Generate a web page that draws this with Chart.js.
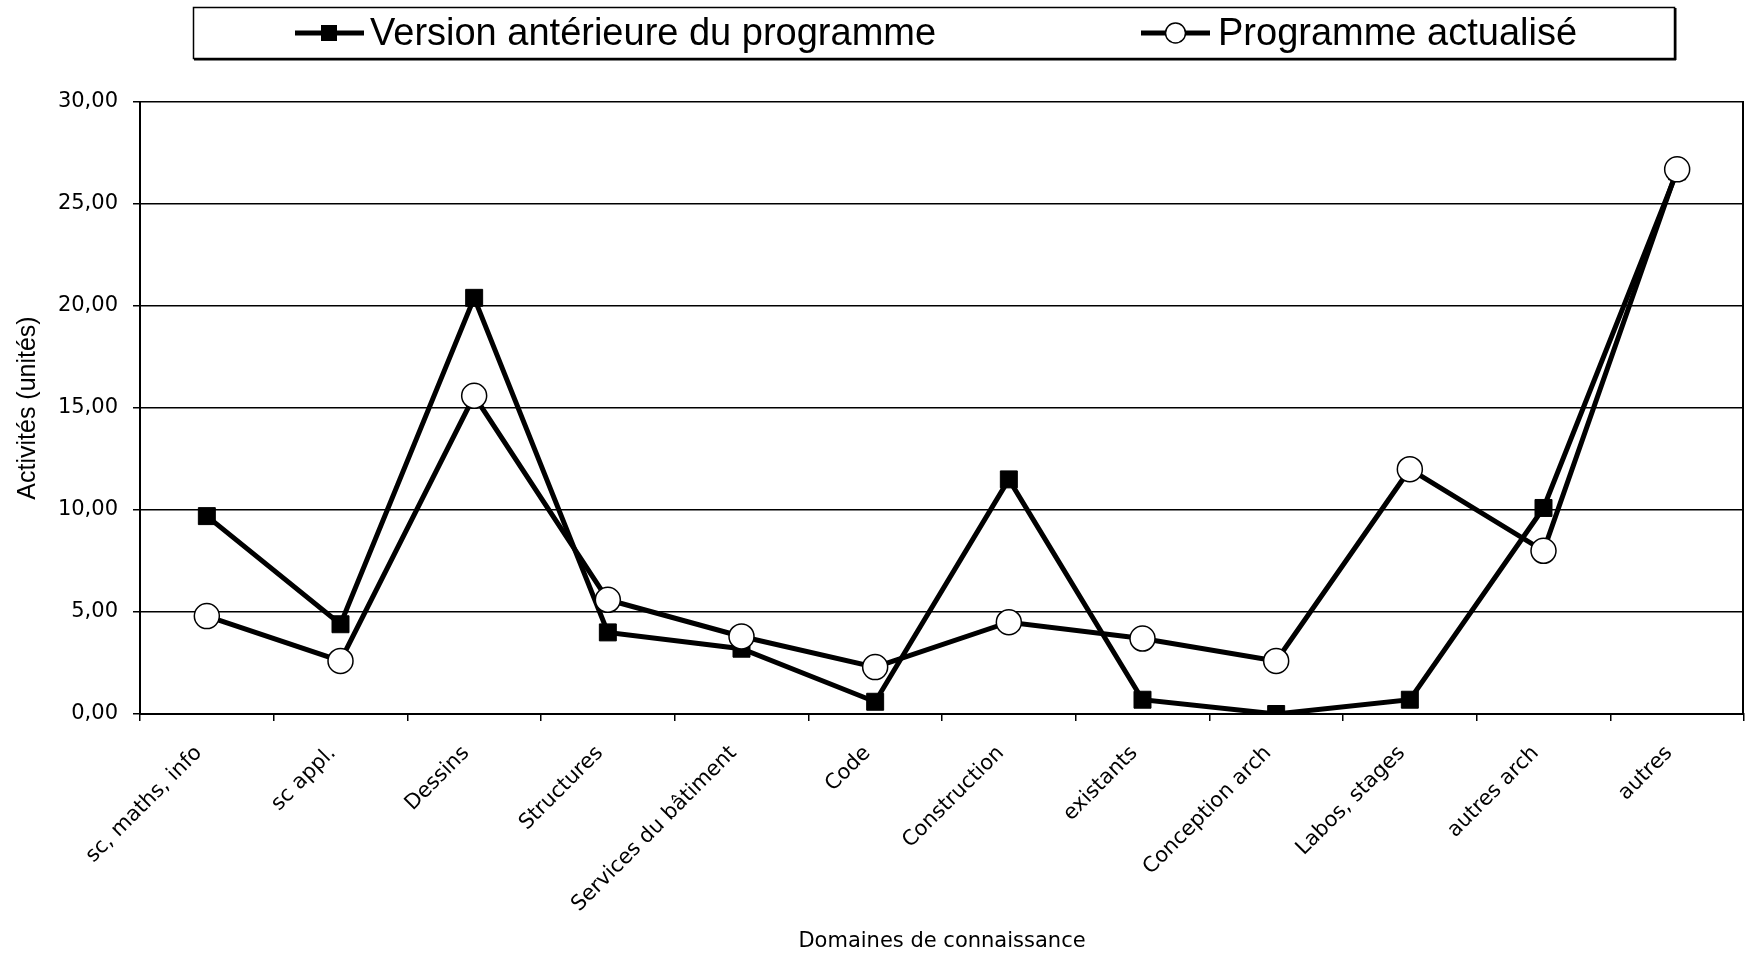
<!DOCTYPE html>
<html><head><meta charset="utf-8">
<script src="https://cdn.jsdelivr.net/npm/chart.js@4.4.1/dist/chart.umd.min.js"></script>
<style>html,body{margin:0;padding:0;background:#fff;overflow:hidden}#wrap{width:1758px;height:955px;position:relative}</style>
</head><body><div id="wrap"><canvas id="c" width="1758" height="955"></canvas></div>
<script>
const categories = ["sc, maths, info","sc appl.","Dessins","Structures","Services du bâtiment","Code","Construction","existants","Conception arch","Labos, stages","autres arch","autres"];
const seriesNames = ["Version antérieure du programme","Programme actualisé"];
const versionAnterieure = [9.7,4.4,20.4,4.0,3.2,0.6,11.5,0.7,0.0,0.7,10.1,26.6];
const programmeActualise = [4.8,2.6,15.6,5.6,3.8,2.3,4.5,3.7,2.6,12.0,8.0,26.7];
const yTicks = [0,5,10,15,20,25,30];
const xTitle = "Domaines de connaissance";
const yTitle = "Activités (unités)";

const framePlugin = {
  id:'frame',
  beforeDatasetsDraw(chart){
    const {ctx, chartArea:a} = chart;
    ctx.save();
    ctx.strokeStyle='#000'; ctx.lineWidth=2;
    ctx.beginPath(); ctx.moveTo(a.right-1,a.top); ctx.lineTo(a.right-1,a.bottom); ctx.stroke();
    ctx.restore();
  },
  afterDraw(chart){
    const ctx = chart.ctx;
    ctx.save();
    ctx.strokeStyle='#000'; ctx.lineWidth=1.5;
    ctx.strokeRect(193.5,7.5,1481,51);
    ctx.lineWidth=2;
    ctx.beginPath(); ctx.moveTo(194,59.5); ctx.lineTo(1676,59.5); ctx.moveTo(1675.5,8); ctx.lineTo(1675.5,60); ctx.stroke();
    const cy = 33;
    ctx.lineWidth=5;
    ctx.beginPath(); ctx.moveTo(295,cy); ctx.lineTo(364,cy); ctx.stroke();
    ctx.fillStyle='#000'; ctx.fillRect(321,cy-8,16,16);
    ctx.beginPath(); ctx.moveTo(1141,cy); ctx.lineTo(1210,cy); ctx.stroke();
    ctx.fillStyle='#fff'; ctx.lineWidth=1.5;
    ctx.beginPath(); ctx.arc(1175.5,cy,10,0,Math.PI*2); ctx.fill(); ctx.stroke();
    ctx.fillStyle='#000';
    ctx.font='38px "Liberation Sans", Arial, sans-serif';
    ctx.textBaseline='middle'; ctx.textAlign='left';
    ctx.fillText(seriesNames[0],370,cy+2);
    ctx.fillText(seriesNames[1],1218,cy+2);
    ctx.restore();
  }
};

new Chart(document.getElementById('c').getContext('2d'), {
  type:'line',
  data:{labels:categories, datasets:[
    {label:seriesNames[0], data:versionAnterieure, borderColor:'#000', borderWidth:5, pointStyle:'rect', pointRadius:12, pointBackgroundColor:'#000', pointBorderColor:'#000', pointBorderWidth:1, tension:0, order:1},
    {label:seriesNames[1], data:programmeActualise, borderColor:'#000', borderWidth:5, pointStyle:'circle', pointRadius:12.5, pointBackgroundColor:'#fff', pointBorderColor:'#000', pointBorderWidth:1.5, tension:0, order:0}
  ]},
  options:{
    responsive:false, animation:false, devicePixelRatio:1,
    layout:{padding:{top:102,right:2,left:0,bottom:0}},
    plugins:{legend:{display:false}, tooltip:{enabled:false}},
    scales:{
      x:{offset:true,
         grid:{display:true, drawOnChartArea:false, drawTicks:true, tickLength:7, offset:true, color:'#000', lineWidth:1.5},
         border:{display:true,color:'#000',width:2},
         ticks:{color:'#000', font:{family:'DejaVu Sans', size:21}, minRotation:45, maxRotation:45, autoSkip:false, padding:20, labelOffset:-8},
         title:{display:true, text:xTitle, color:'#000', font:{family:'DejaVu Sans',size:21}, padding:{top:0,bottom:1}},
         afterFit(s){s.height=241;}},
      y:{min:0,max:30,
         afterBuildTicks(s){s.ticks=yTicks.map(v=>({value:v}));},
         grid:{color:'#000', lineWidth:1.5, tickLength:7, drawTicks:true},
         border:{display:true,color:'#000',width:2},
         ticks:{color:'#000', font:{family:'DejaVu Sans',size:21}, padding:15, callback:v=>Number(v).toFixed(2).replace('.',',')},
         title:{display:true,text:yTitle, color:'#000', font:{family:'Liberation Sans',size:25}, padding:{top:13,bottom:0}},
         afterFit(s){s.width=140;}}
    }
  },
  plugins:[framePlugin]
});
</script></body></html>
